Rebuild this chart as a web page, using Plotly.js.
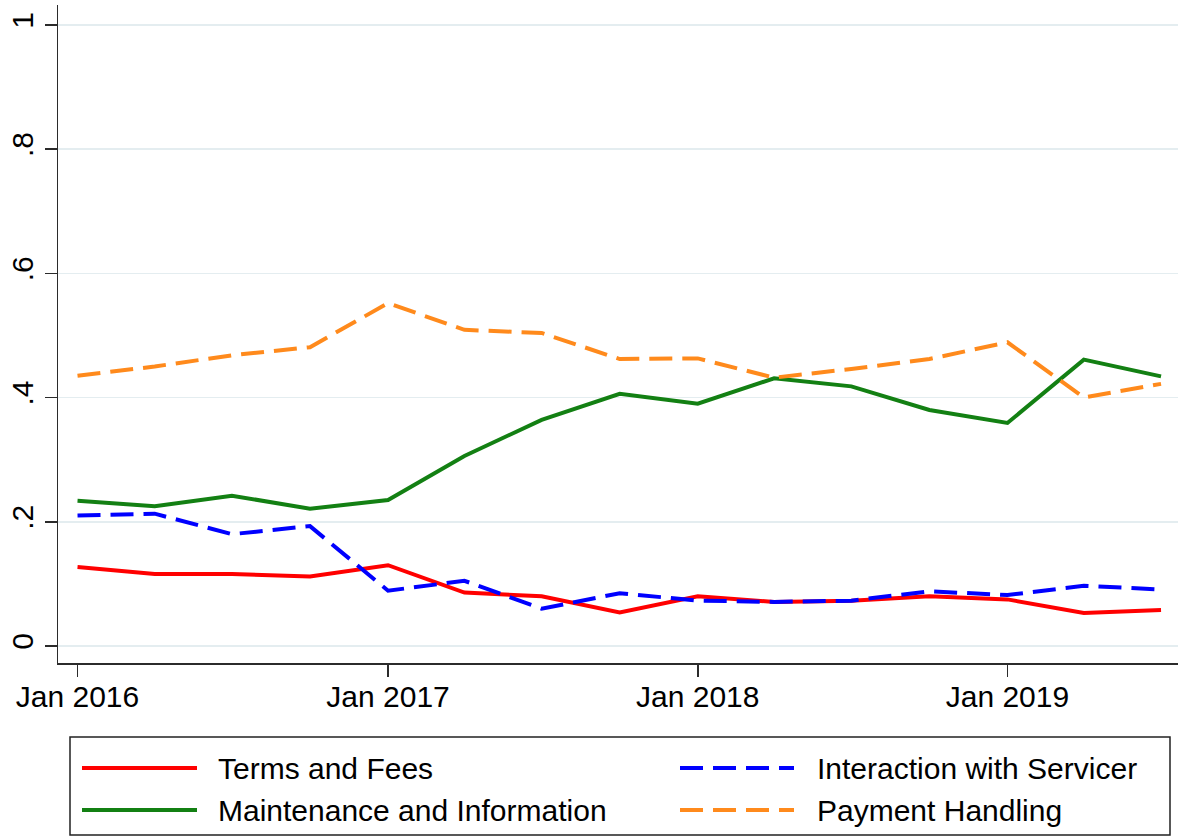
<!DOCTYPE html>
<html>
<head>
<meta charset="utf-8">
<script src="https://cdn.plot.ly/plotly-3.0.1.min.js"></script>
<style>html,body{margin:0;padding:0;background:#fff;}#chart{width:1178px;height:837px;}</style>
</head>
<body>
<div id="chart"></div>
<script>
// Quarterly dates
const quarters = ["2016-01-01","2016-04-01","2016-07-01","2016-10-01",
                  "2017-01-01","2017-04-01","2017-07-01","2017-10-01",
                  "2018-01-01","2018-04-01","2018-07-01","2018-10-01",
                  "2019-01-01","2019-04-01","2019-07-01"];
const seriesNames = ["Terms and Fees","Interaction with Servicer","Maintenance and Information","Payment Handling"];
const termsFees   = [0.127,0.116,0.116,0.112,0.130,0.086,0.080,0.054,0.080,0.071,0.073,0.080,0.075,0.053,0.058];
const interaction = [0.210,0.213,0.180,0.193,0.089,0.105,0.060,0.085,0.073,0.071,0.073,0.088,0.082,0.097,0.091];
const maintenance = [0.234,0.225,0.242,0.221,0.235,0.306,0.364,0.406,0.390,0.431,0.418,0.380,0.359,0.461,0.434];
const payment     = [0.435,0.450,0.468,0.481,0.552,0.509,0.504,0.462,0.463,0.432,0.446,0.462,0.489,0.400,0.422];
const yTickVals = [0,0.2,0.4,0.6,0.8,1];
const yTickText = ["0",".2",".4",".6",".8","1"];
const xTickVals = ["2016-01-01","2017-01-01","2018-01-01","2019-01-01"];
const xTickText = ["Jan 2016","Jan 2017","Jan 2018","Jan 2019"];

const colors = ["#ff0000","#0000ff","#138013","#ff8a1c"];
const dashes = ["solid","23px,10px","solid","23px,10px"];
const values = [termsFees, interaction, maintenance, payment];

const FONT = "Liberation Sans, Arial, Helvetica, sans-serif";
const FS = 30;
const traces = values.map((v,i)=>({
  x: quarters, y: v, type: "scatter", mode: "lines", name: seriesNames[i],
  line: {color: colors[i], width: 4, dash: dashes[i]},
  showlegend: false, hoverinfo: "x+y+name"
}));

// Manual legend (2 columns x 2 rows) in paper coordinates
const W = 1120, H = 658;
const px = p => (p - 58) / W;
const py = p => (663 - p) / H;
const colX = [[82,197,216],[680,794,815]];
const rowY = [768,810];
const shapes = [{
  type:"rect", xref:"paper", yref:"paper",
  x0: px(70), x1: px(1170), y0: py(835), y1: py(737),
  line:{color:"#222", width:1.5}, fillcolor:"rgba(0,0,0,0)"
}];
const annotations = [];
seriesNames.forEach((name,s)=>{
  const c = s % 2, r = Math.floor(s / 2);
  shapes.push({type:"line", xref:"paper", yref:"paper",
    x0:px(colX[c][0]), x1:px(colX[c][1]), y0:py(rowY[r]), y1:py(rowY[r]),
    line:{color:colors[s], width:4, dash:dashes[s]}});
  annotations.push({xref:"paper", yref:"paper", x:px(colX[c][2]), y:py(rowY[r]),
    xanchor:"left", yanchor:"middle", showarrow:false, text:name,
    font:{family:FONT, size:FS, color:"#000"}});
});

const layout = {
  width: 1178, height: 837,
  margin: {l:58, r:0, t:5, b:174},
  paper_bgcolor: "#fff", plot_bgcolor: "#fff",
  font: {family: FONT, size: FS, color: "#000"},
  xaxis: {
    type: "date", range: ["2015-12-09","2019-07-21"],
    tickvals: xTickVals, ticktext: xTickText,
    showgrid: false, zeroline: false,
    showline: true, linecolor: "#2b2b2b", linewidth: 1.5,
    ticks: "outside", ticklen: 12, tickwidth: 1.5, tickcolor: "#2b2b2b",
    ticklabelstandoff: -6,
    tickfont: {family: FONT, size: FS, color: "#000"}
  },
  yaxis: {
    range: [-0.0274, 1.032],
    tickvals: yTickVals, ticktext: yTickText, tickangle: -90,
    showgrid: true, gridcolor: "#e4edf0", gridwidth: 1.5, zeroline: false,
    showline: true, linecolor: "#2b2b2b", linewidth: 1.5,
    ticks: "outside", ticklen: 12, tickwidth: 1.5, tickcolor: "#2b2b2b",
    tickfont: {family: FONT, size: FS, color: "#000"}
  },
  shapes: shapes,
  annotations: annotations,
  showlegend: false
};
Plotly.newPlot("chart", traces, layout, {displayModeBar:false, staticPlot:true});
</script>
</body>
</html>
